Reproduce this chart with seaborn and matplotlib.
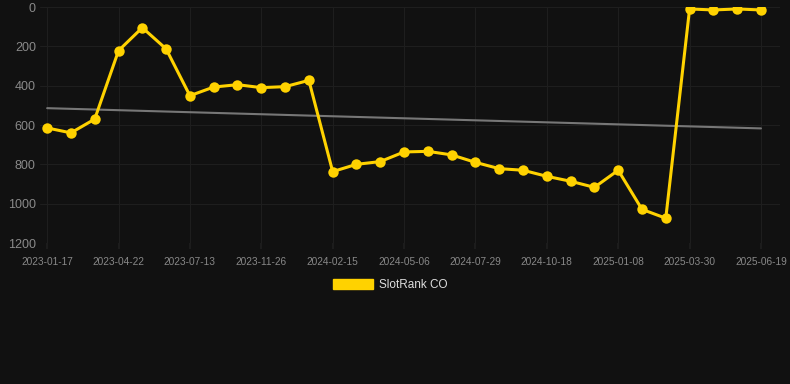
import numpy as np
import pandas as pd
import matplotlib
matplotlib.use("Agg")
import matplotlib.pyplot as plt
import seaborn as sns
from matplotlib.patches import Patch

# ---- data ----
tick_labels = ["2023-01-17", "2023-04-22", "2023-07-13", "2023-11-26", "2024-02-15",
               "2024-05-06", "2024-07-29", "2024-10-18", "2025-01-08", "2025-03-30",
               "2025-06-19"]
rank = [615, 640, 570, 222, 105, 213, 451, 407, 395, 410, 405, 373,
        837, 800, 786, 737, 734, 752, 790, 822, 830, 861, 886, 917,
        830, 1029, 1074, 10, 15, 10, 15]
series_name = "SlotRank CO"
y_ticks = [0, 200, 400, 600, 800, 1000, 1200]

idx = np.arange(len(rank))
df = pd.DataFrame({"idx": idx, "rank": rank})

BG = "#111111"
GOLD = "#FFD200"
GRID = "#1e1e1e"

sns.set_theme(style="dark")
plt.rcParams["font.family"] = ["Liberation Sans", "DejaVu Sans"]

fig = plt.figure(figsize=(7.9, 3.84), dpi=100, facecolor=BG)
ax = fig.add_axes([40 / 790, 1 - 243 / 384, 740 / 790, 236 / 384])
ax.set_facecolor(BG)

# trend line (linear regression)
coef = np.polyfit(idx, rank, 1)
trend = np.polyval(coef, idx)
sns.lineplot(x=idx, y=trend, ax=ax, color="#777777", linewidth=1.5, zorder=2)

sns.lineplot(data=df, x="idx", y="rank", ax=ax, color=GOLD, linewidth=2.2,
             marker="o", markersize=7.5, markeredgewidth=0, zorder=3)

ax.set_ylim(1200, 0)
ax.set_xlim(-0.3, 30.8)
ax.set_yticks(y_ticks)
ax.set_yticklabels([str(v) for v in y_ticks])
ax.set_xticks(idx[::3])
ax.set_xticklabels(tick_labels)
ax.set_xlabel("")
ax.set_ylabel("")

ax.grid(True, color=GRID, linewidth=0.8)
for s in ax.spines.values():
    s.set_visible(False)
ax.tick_params(axis="y", length=0, pad=3, labelsize=9, labelcolor="#8a8a8a")
ax.tick_params(axis="x", length=4, color=GRID, pad=6, labelsize=7.3,
               labelcolor="#888888", bottom=True)

handle = Patch(facecolor=GOLD, edgecolor=GOLD)
fig.legend([handle], [series_name], loc="center",
           bbox_to_anchor=(390 / 790, 1 - 285 / 384), frameon=False,
           fontsize=8.5, labelcolor="#dddddd", handlelength=3.4, handleheight=0.95,
           handletextpad=0.5)

fig.savefig("out.png", dpi=100, facecolor=BG)
